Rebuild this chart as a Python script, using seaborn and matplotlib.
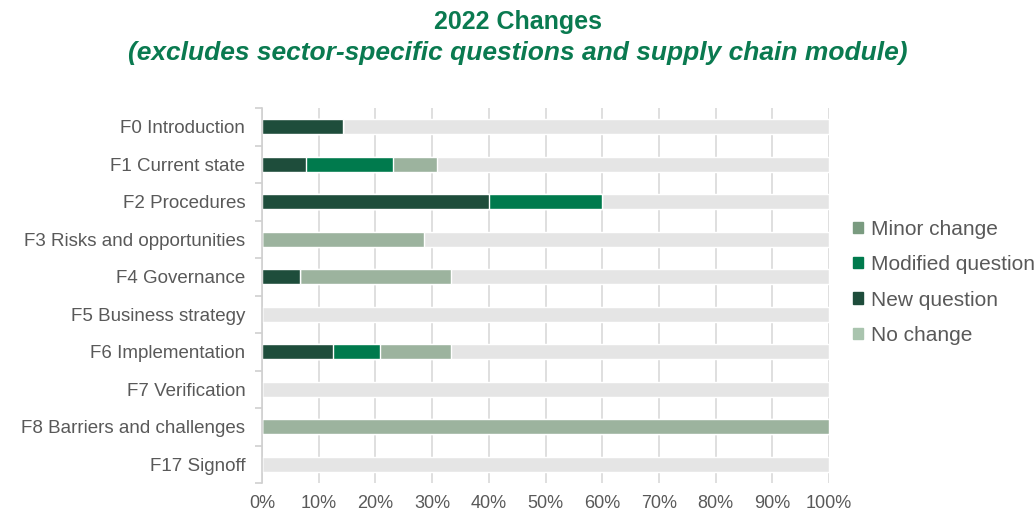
import pandas as pd
import seaborn as sns
import matplotlib.pyplot as plt
from matplotlib.patches import Patch

sns.set_theme(style="white")
plt.rcParams["font.family"] = ["Liberation Sans", "DejaVu Sans"]

categories = [
    "F0 Introduction",
    "F1 Current state",
    "F2 Procedures",
    "F3 Risks and opportunities",
    "F4 Governance",
    "F5 Business strategy",
    "F6 Implementation",
    "F7 Verification",
    "F8 Barriers and challenges",
    "F17 Signoff",
]
new_question = [14.3, 7.7, 40.0, 0, 6.7, 0, 12.5, 0, 0, 0]
modified_question = [0, 15.4, 20.0, 0, 0, 0, 8.3, 0, 0, 0]
minor_change = [0, 7.7, 0, 28.6, 26.7, 0, 12.5, 0, 100.0, 0]

df = pd.DataFrame({
    "section": categories,
    "new": new_question,
    "modified": modified_question,
    "minor": minor_change,
})
df["cum_mod"] = df["new"] + df["modified"]
df["cum_minor"] = df["cum_mod"] + df["minor"]
df["total"] = 100.0

fig = plt.figure(figsize=(10.35, 5.13), dpi=100)
ax = fig.add_axes([262 / 1035, 1 - 483 / 513, 567 / 1035, 375 / 513])

# stacked bars drawn back to front
layers = [
    ("total", "#e5e5e5"),
    ("cum_minor", "#9cb39e"),
    ("cum_mod", "#007a4d"),
    ("new", "#1e4d3b"),
]
for col, color in layers:
    sns.barplot(data=df, x=col, y="section", color=color, width=0.4,
                saturation=1, orient="h", ax=ax, zorder=2)

ax.set_xlim(0, 100)
ax.set_xticks(range(0, 101, 10))
ax.set_xticklabels([f"{t}%" for t in range(0, 101, 10)])
ax.grid(axis="x", color="#d9d9d9", linewidth=1.2, zorder=0)
ax.set_axisbelow(True)
ax.set_xlabel("")
ax.set_ylabel("")

for s in ["top", "right", "bottom"]:
    ax.spines[s].set_visible(False)
ax.spines["left"].set_color("#d0d0d0")
ax.spines["left"].set_linewidth(1.2)

ax.set_yticks([i + 0.5 for i in range(-1, len(categories))], minor=True)
ax.tick_params(axis="y", which="minor", length=5, color="#d0d0d0", width=1.2, left=True)
ax.tick_params(axis="y", which="major", length=0, pad=12, labelsize=13.5, labelcolor="#595959")
ax.tick_params(axis="x", length=0, pad=9, labelsize=13, labelcolor="#595959")

handles = [
    Patch(color="#7a9b80", label="Minor change"),
    Patch(color="#007a4d", label="Modified question"),
    Patch(color="#1e4d3b", label="New question"),
    Patch(color="#a9c4ae", label="No change"),
]
leg = ax.legend(handles=handles, loc="center left", bbox_to_anchor=(1.01, 0.535),
                frameon=False, fontsize=15, handlelength=0.45, handleheight=0.45,
                handletextpad=0.4, labelspacing=0.78, labelcolor="#595959")

title_color = "#0a7a50"
title_font = ["Liberation Sans Narrow", "Liberation Sans", "DejaVu Sans"]
fig.text(0.5, 1 - 22 / 513, "2022 Changes", ha="center", va="center",
         fontsize=18, fontweight="bold", color=title_color, family=title_font)
fig.text(0.5, 1 - 53 / 513,
         "(excludes sector-specific questions and supply chain module)",
         ha="center", va="center", fontsize=19, fontweight="bold", style="italic",
         color=title_color, family=title_font)

fig.savefig("out.png", dpi=100)
